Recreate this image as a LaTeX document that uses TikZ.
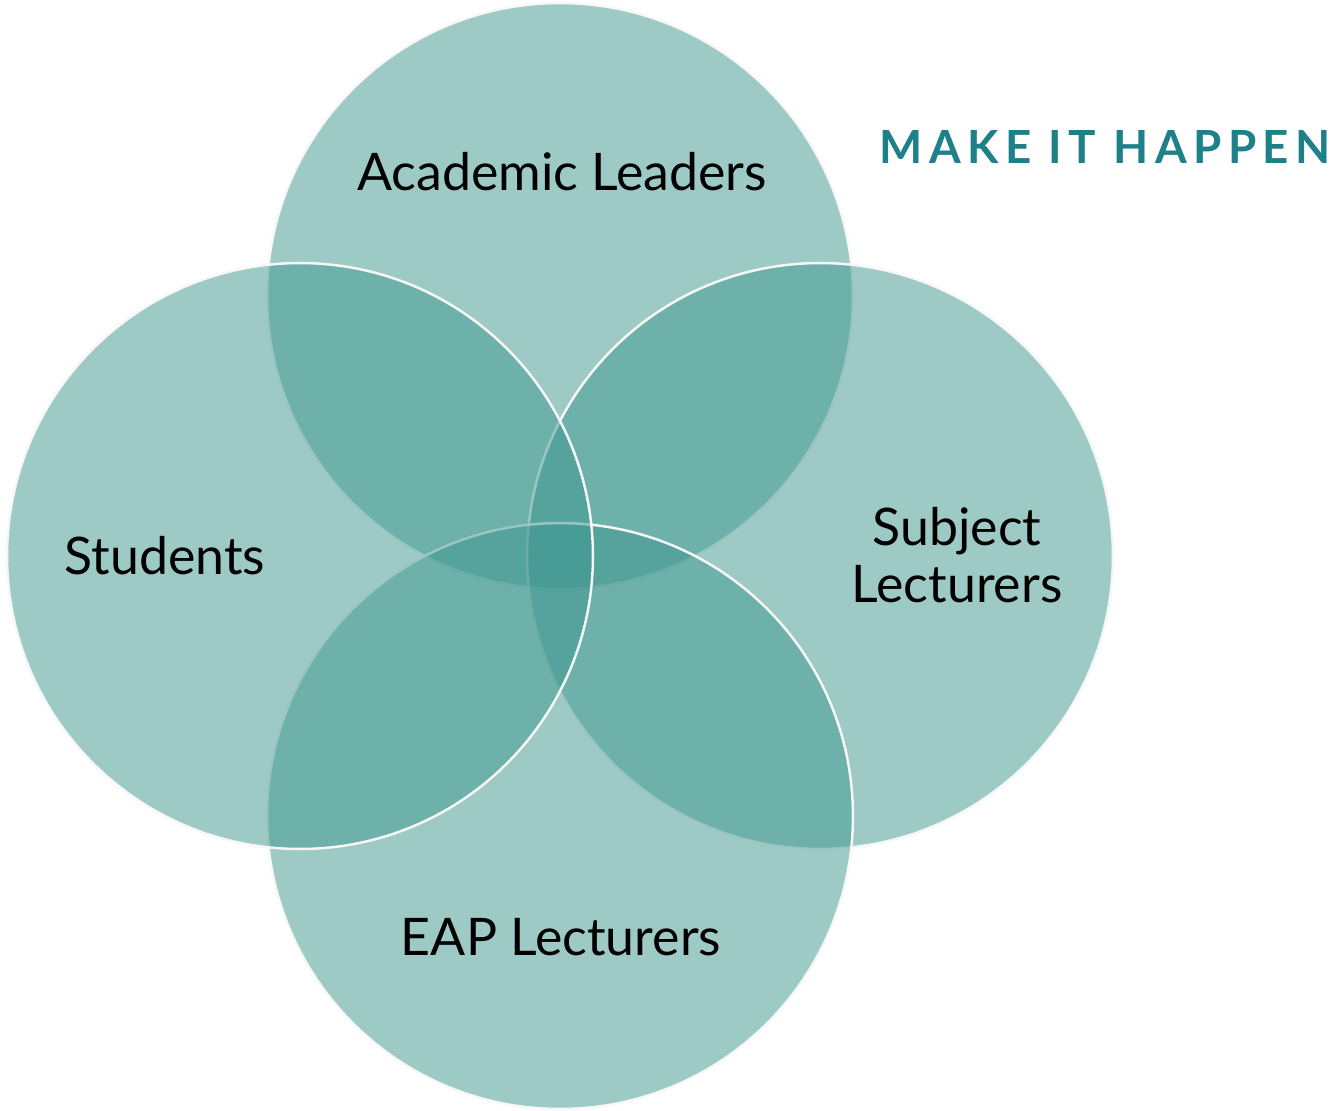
\documentclass[tikz,border=0pt]{standalone}
\usepackage{fontspec}
\setmainfont{Lato}
\usepackage{xcolor}
\usepackage{tikz}
\usetikzlibrary{positioning}

\definecolor{vennteal}{RGB}{62,150,142}
\definecolor{slogan}{RGB}{30,128,136}

\begin{document}
\begin{tikzpicture}[
        x=0.02cm, y=-0.02cm,
        % Node styles
        venn/.style={circle, fill=vennteal, fill opacity=0.5, draw=white!94!gray,
                     draw opacity=1, line width=1.4pt, minimum size=11.72cm, inner sep=0pt},
        circletext/.style={font=\fontsize{29.5}{35}\selectfont, text=black, text opacity=1, align=center},
        motto/.style={font=\fontsize{26}{30}\selectfont\bfseries\addfontfeatures{LetterSpace=14}, text=slogan}
    ]
        \useasboundingbox (0,0) rectangle (1334,1110);

        % Four overlapping circles
        \node[venn] (leaders) at (560,296) {};
        \node[venn] (subject) at (820,556) {};
        \node[venn] (eap) at (560,816) {};
        \node[venn] (students) at (300,556) {};

        % Circle labels
        \node[circletext] (leaderstext) at (562,172) {Academic Leaders};
        \node[circletext] (studentstext) at (165,556) {Students};
        \node[circletext, font=\fontsize{29.5}{32}\selectfont] (subjecttext) at (957,555) {Subject\\Lecturers};
        \node[circletext] (eaptext) at (561,937) {EAP Lecturers};

        % Slogan
        \node[motto, anchor=east, inner sep=0pt] (motto) at (1331,147) {MAKE IT HAPPEN};
    \end{tikzpicture}
\end{document}
